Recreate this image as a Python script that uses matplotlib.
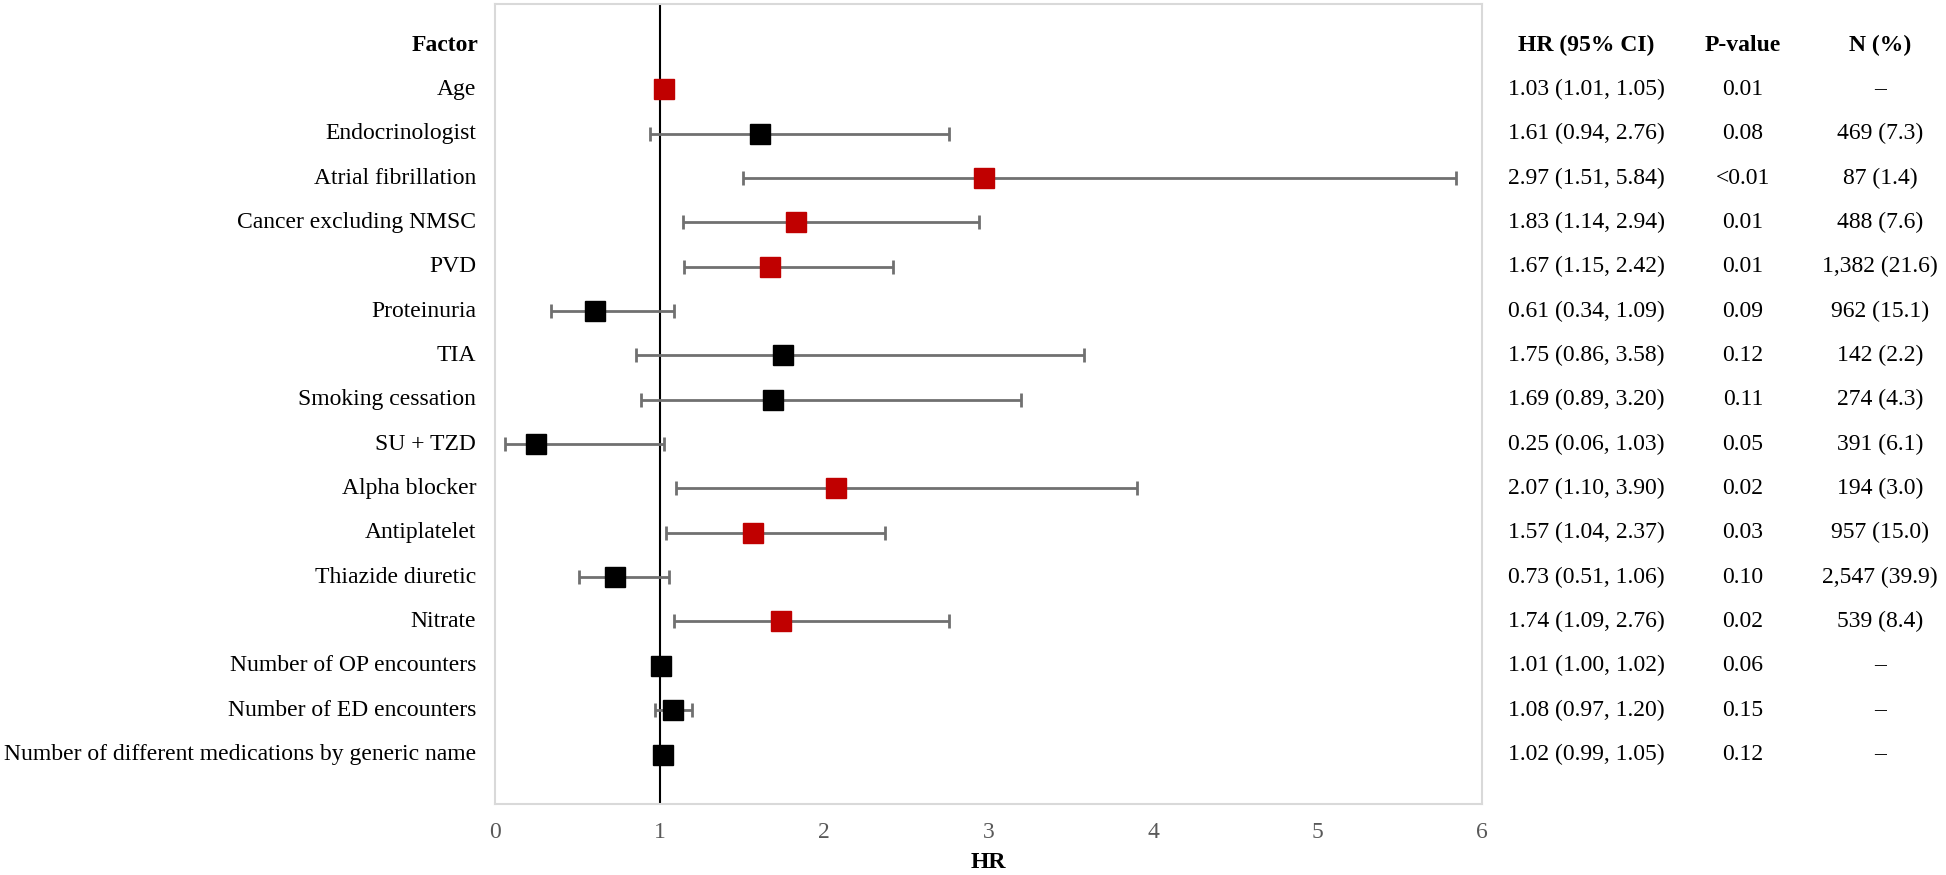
import matplotlib
matplotlib.use("Agg")
import matplotlib.pyplot as plt
import matplotlib.transforms as mtransforms

plt.rcParams['font.family'] = ['Liberation Serif', 'DejaVu Serif']

factors = ["Age", "Endocrinologist", "Atrial fibrillation", "Cancer excluding NMSC", "PVD",
           "Proteinuria", "TIA", "Smoking cessation", "SU + TZD", "Alpha blocker",
           "Antiplatelet", "Thiazide diuretic", "Nitrate", "Number of OP encounters",
           "Number of ED encounters", "Number of different medications by generic name"]
hr = [1.03, 1.61, 2.97, 1.83, 1.67, 0.61, 1.75, 1.69, 0.25, 2.07, 1.57, 0.73, 1.74, 1.01, 1.08, 1.02]
ci_low = [1.01, 0.94, 1.51, 1.14, 1.15, 0.34, 0.86, 0.89, 0.06, 1.10, 1.04, 0.51, 1.09, 1.00, 0.97, 0.99]
ci_high = [1.05, 2.76, 5.84, 2.94, 2.42, 1.09, 3.58, 3.20, 1.03, 3.90, 2.37, 1.06, 2.76, 1.02, 1.20, 1.05]
p_values = ["0.01", "0.08", "<0.01", "0.01", "0.01", "0.09", "0.12", "0.11", "0.05", "0.02",
            "0.03", "0.10", "0.02", "0.06", "0.15", "0.12"]
n_pct = ["\u2013", "469 (7.3)", "87 (1.4)", "488 (7.6)", "1,382 (21.6)", "962 (15.1)", "142 (2.2)",
         "274 (4.3)", "391 (6.1)", "194 (3.0)", "957 (15.0)", "2,547 (39.9)", "539 (8.4)",
         "\u2013", "\u2013", "\u2013"]
significant = [True, False, True, True, True, False, False, False, False, True,
               True, False, True, False, False, False]
x_ticks = [0, 1, 2, 3, 4, 5, 6]

RED = "#C00000"
fs = 17

fig = plt.figure(figsize=(19.46, 8.75), dpi=100)
ax = fig.add_axes([495/1946, 71/875, 987/1946, 800/875])

ys = list(range(1, len(factors) + 1))
for y, h, lo, hi, sig in zip(ys, hr, ci_low, ci_high, significant):
    ax.errorbar([h], [y], xerr=[[h - lo], [hi - h]], fmt='none', ecolor='#707070',
                elinewidth=2, capsize=5, capthick=2, zorder=2)
    ax.plot([h], [y], marker='s', markersize=14.5, color=RED if sig else 'black',
            linestyle='none', zorder=3)

ax.axvline(1, color='black', linewidth=1.5, zorder=1)

ax.set_xlim(0, 6)
ax.set_ylim(17.116, -0.926)
ax.set_xticks(x_ticks)
ax.set_xticklabels([str(t) for t in x_ticks])
ax.set_yticks([])
ax.tick_params(axis='x', length=0, pad=13, labelsize=fs, labelcolor='#595959')
for s in ax.spines.values():
    s.set_color('#d9d9d9')
    s.set_linewidth(1.5)
fig.text((495 + 987/2)/1946, 1 - 862/875, "HR", ha='center', va='center',
         fontsize=fs, fontweight='bold')

trans = mtransforms.blended_transform_factory(fig.transFigure, ax.transData)
label_x = 476/1946
ax.text(478/1946, 0, "Factor", transform=trans, ha='right', va='center',
        fontsize=fs, fontweight='bold')
for y, f in zip(ys, factors):
    ax.text(label_x, y, f, transform=trans, ha='right', va='center', fontsize=fs)

col_hr = 1586/1946
col_p = 1743/1946
col_n = 1880/1946
ax.text(col_hr, 0, "HR (95% CI)", transform=trans, ha='center', va='center', fontsize=fs, fontweight='bold')
ax.text(col_p, 0, "P-value", transform=trans, ha='center', va='center', fontsize=fs, fontweight='bold')
ax.text(col_n, 0, "N (%)", transform=trans, ha='center', va='center', fontsize=fs, fontweight='bold')
for y, h, lo, hi, p, n in zip(ys, hr, ci_low, ci_high, p_values, n_pct):
    ax.text(col_hr, y, f"{h:.2f} ({lo:.2f}, {hi:.2f})", transform=trans, ha='center', va='center', fontsize=fs)
    ax.text(col_p, y, p, transform=trans, ha='center', va='center', fontsize=fs)
    ax.text(col_n, y, n, transform=trans, ha='center', va='center', fontsize=fs)

fig.savefig("out.png", dpi=100)
